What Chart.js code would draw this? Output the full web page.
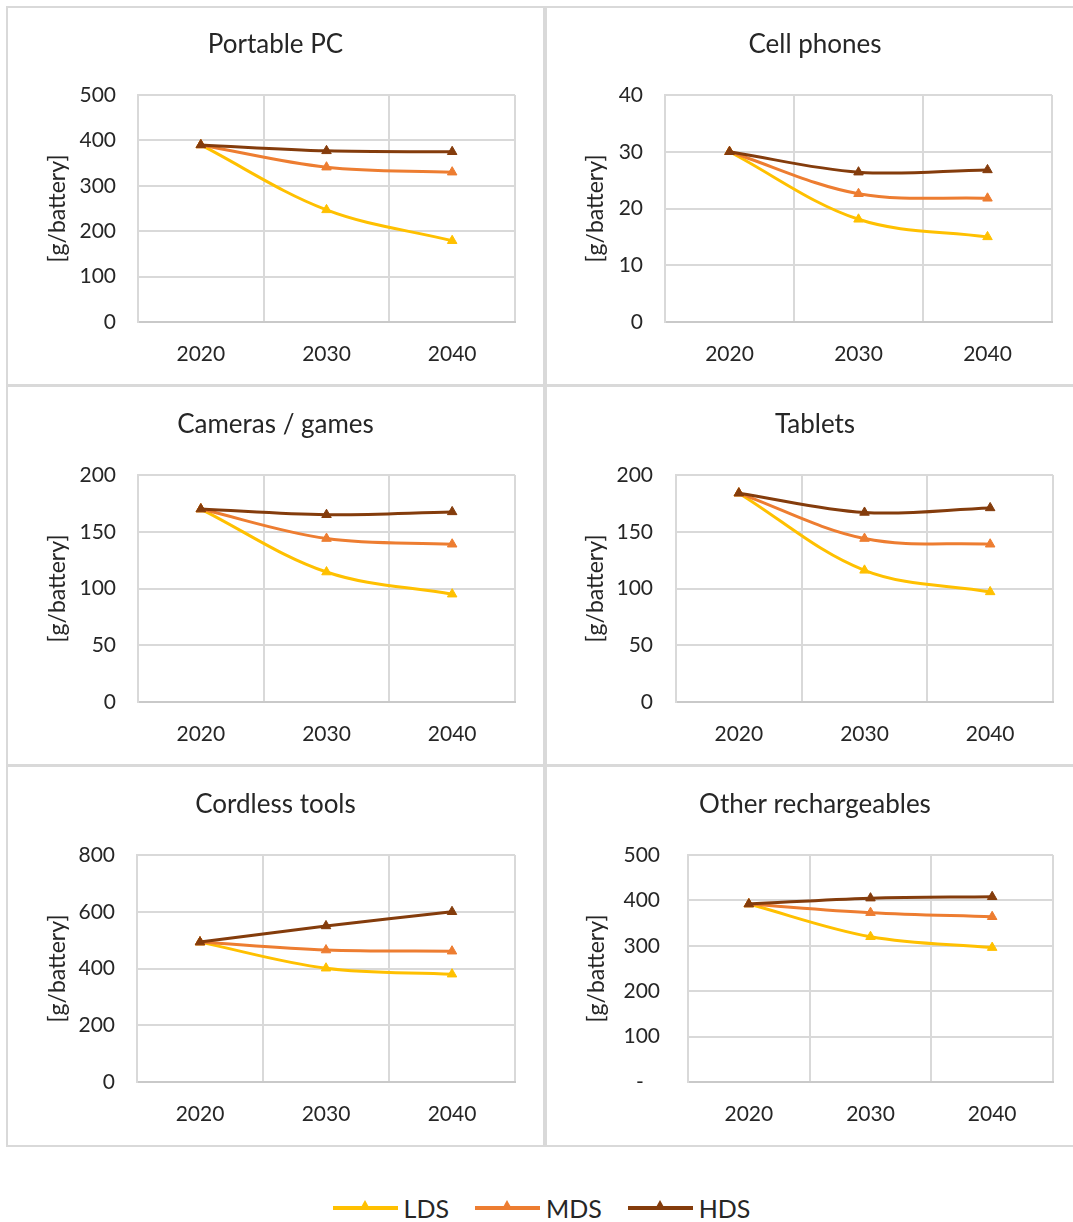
<!DOCTYPE html>
<html>
<head>
<meta charset="utf-8">
<script src="https://cdn.jsdelivr.net/npm/chart.js@4.4.1/dist/chart.umd.min.js"></script>
<style>
  html, body { margin: 0; padding: 0; background: #fff; overflow: hidden; }
  #page { position: relative; width: 1073px; height: 1222px; overflow: hidden; }
  .panel { position: absolute; border: 2px solid #d9d9d9; box-sizing: border-box; }
  .panel canvas { position: absolute; left: 0; top: 0; }
  #legend { position: absolute; left: 5px; top: 1192px; width: 1073px; height: 32px;
            display: flex; justify-content: center; align-items: center;
            font-family: Lato, sans-serif; font-size: 25px; color: #262626; }
  .item { display: flex; align-items: center; margin: 0 13px; }
  .swatch { position: relative; width: 65px; height: 4px; margin-right: 6px; }
  .swatch span { position: absolute; left: 27px; top: -6px; width: 0; height: 0;
                 border-left: 5.5px solid transparent; border-right: 5.5px solid transparent;
                 border-bottom-width: 9px; border-bottom-style: solid; }
</style>
</head>
<body>
<div id="page">
  <div class="panel" style="left:6px;top:6px;width:539px;height:380px"><canvas id="c1"></canvas></div>
  <div class="panel" style="left:545px;top:6px;width:540px;height:380px"><canvas id="c2"></canvas></div>
  <div class="panel" style="left:6px;top:385px;width:539px;height:381px"><canvas id="c3"></canvas></div>
  <div class="panel" style="left:545px;top:385px;width:540px;height:381px"><canvas id="c4"></canvas></div>
  <div class="panel" style="left:6px;top:765px;width:539px;height:382px"><canvas id="c5"></canvas></div>
  <div class="panel" style="left:545px;top:765px;width:540px;height:382px"><canvas id="c6"></canvas></div>
  <div id="legend"></div>
</div>
<script>
// categories
const years = ['2020', '2030', '2040'];
const seriesNames = ['LDS', 'MDS', 'HDS'];
const panelTitles = ['Portable PC', 'Cell phones', 'Cameras / games', 'Tablets', 'Cordless tools', 'Other rechargeables'];

// values [g/battery]
const pcLDS = [390, 247, 179];
const pcMDS = [390, 341, 330];
const pcHDS = [390, 377, 375];

const phoneLDS = [30, 18.1, 15.0];
const phoneMDS = [30, 22.6, 21.8];
const phoneHDS = [30, 26.4, 26.8];

const cameraLDS = [170, 114.5, 95];
const cameraMDS = [170, 144, 139];
const cameraHDS = [170, 165, 167.5];

const tabletLDS = [184, 116, 97];
const tabletMDS = [184, 144, 139];
const tabletHDS = [184, 167, 171];

const toolLDS = [493, 401, 380];
const toolMDS = [493, 465, 461];
const toolHDS = [493, 550, 600];

const otherLDS = [392, 320, 296];
const otherMDS = [392, 373, 364];
const otherHDS = [392, 405, 408];

// y axis ticks
const yMaxes = [500, 40, 200, 200, 800, 500];
const ySteps = [100, 10, 50, 50, 200, 100];

const colors = ['#FFC000', '#ED7D31', '#843C0C'];
const FONT = 'Lato, "Open Sans", sans-serif';
const TEXT = '#262626';
const GRID = '#d9d9d9';

// page coords: canvas box and plot area
const layouts = [
  { cx: 8,   cy: 8,   w: 535, h: 376, L: 138, R: 515,  T: 95,  B: 322,  titleY: 45,  yTitleX: 58,  tickPad: 22 },
  { cx: 547, cy: 8,   w: 536, h: 376, L: 665, R: 1052, T: 95,  B: 322,  titleY: 45,  yTitleX: 596, tickPad: 22 },
  { cx: 8,   cy: 387, w: 535, h: 377, L: 138, R: 515,  T: 475, B: 702,  titleY: 425, yTitleX: 58,  tickPad: 22 },
  { cx: 547, cy: 387, w: 536, h: 377, L: 676, R: 1053, T: 475, B: 702,  titleY: 425, yTitleX: 596, tickPad: 23 },
  { cx: 8,   cy: 767, w: 535, h: 378, L: 137, R: 515,  T: 855, B: 1082, titleY: 805, yTitleX: 58,  tickPad: 22 },
  { cx: 547, cy: 767, w: 536, h: 378, L: 688, R: 1053, T: 855, B: 1082, titleY: 805, yTitleX: 597, tickPad: 28 }
];

const panelData = [
  [pcLDS, pcMDS, pcHDS],
  [phoneLDS, phoneMDS, phoneHDS],
  [cameraLDS, cameraMDS, cameraHDS],
  [tabletLDS, tabletMDS, tabletHDS],
  [toolLDS, toolMDS, toolHDS],
  [otherLDS, otherMDS, otherHDS]
];

const TITLE_SIZE = 26;
const TICK_SIZE = 21;
const YTITLE_SIZE = 23;

function makePanel(i) {
  const g = layouts[i];
  const canvas = document.getElementById('c' + (i + 1));
  canvas.width = g.w;
  canvas.height = g.h;

  const titleLh = TITLE_SIZE * 1.2;
  const titleTop = (g.titleY - g.cy) - titleLh / 2;
  const titleBottom = (g.T - g.cy) - titleTop - titleLh;
  const tickLh = TICK_SIZE * 1.2;
  const yTitleLh = YTITLE_SIZE * 1.2;

  const datasets = panelData[i].map((vals, k) => ({
    label: seriesNames[k],
    data: vals,
    borderColor: colors[k],
    backgroundColor: colors[k],
    borderWidth: 3,
    tension: 0.35,
    pointStyle: 'triangle',
    pointRadius: 5.5,
    pointBorderWidth: 1,
    pointBackgroundColor: colors[k],
    pointBorderColor: colors[k],
    order: 3 - k
  }));

  new Chart(canvas, {
    type: 'line',
    data: { labels: years, datasets: datasets },
    options: {
      responsive: false,
      animation: false,
      events: [],
      layout: { padding: 0 },
      plugins: {
        legend: { display: false },
        tooltip: { enabled: false },
        title: {
          display: true,
          text: panelTitles[i],
          color: TEXT,
          font: { family: FONT, size: TITLE_SIZE, weight: 'normal' },
          padding: { top: titleTop, bottom: titleBottom }
        }
      },
      scales: {
        x: {
          offset: true,
          grid: { offset: true, color: GRID, lineWidth: 2, drawTicks: false },
          border: { color: '#c9c9c9', width: 2 },
          ticks: {
            color: TEXT, maxRotation: 0,
            font: { family: FONT, size: TICK_SIZE },
            padding: 32 - tickLh / 2
          },
          afterFit: s => { s.height = g.cy + g.h - g.B; }
        },
        y: {
          min: 0,
          max: yMaxes[i],
          grid: { color: GRID, lineWidth: 2, drawTicks: false },
          border: { color: GRID, width: 2 },
          ticks: {
            stepSize: ySteps[i],
            color: TEXT,
            padding: g.tickPad,
            font: { family: FONT, size: TICK_SIZE },
            callback: v => (i === 5 && v === 0) ? '-   ' : v
          },
          title: {
            display: true,
            text: '[g/battery]',
            color: TEXT,
            font: { family: FONT, size: YTITLE_SIZE },
            padding: { top: (g.yTitleX - g.cx) - yTitleLh / 2, bottom: 0 }
          },
          afterFit: s => { s.width = g.L - g.cx; }
        },
        // empty right-hand spacer so the title stays centred on the whole panel
        spacer: {
          type: 'linear',
          position: 'right',
          min: 0, max: 1,
          grid: { display: false, drawTicks: false },
          border: { display: false },
          ticks: { display: false },
          afterFit: s => { s.width = g.cx + g.w - g.R; }
        }
      }
    }
  });
}

for (let i = 0; i < 6; i++) makePanel(i);

// legend
const legend = document.getElementById('legend');
seriesNames.forEach((name, k) => {
  const item = document.createElement('div');
  item.className = 'item';
  item.innerHTML = `<div class="swatch" style="background:${colors[k]}"><span style="border-bottom-color:${colors[k]}"></span></div><div>${name}</div>`;
  legend.appendChild(item);
});
</script>
</body>
</html>
